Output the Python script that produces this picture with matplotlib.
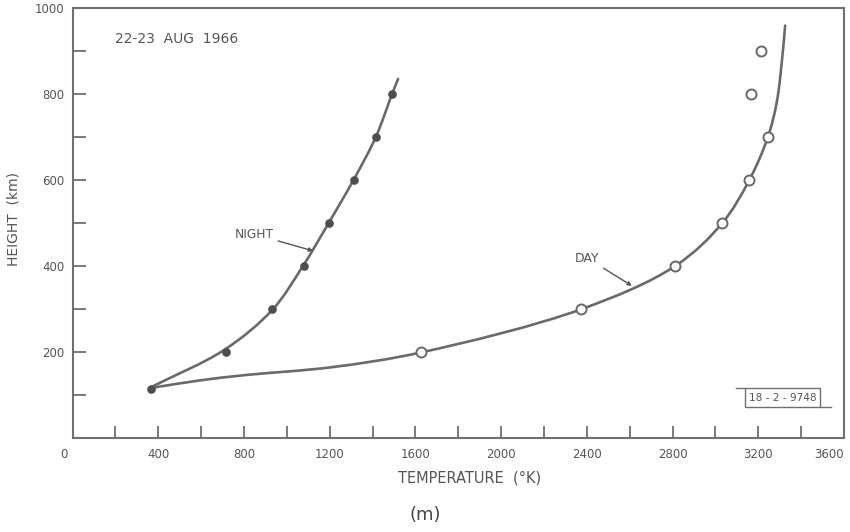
import numpy as np
import matplotlib
matplotlib.use("Agg")
import matplotlib.pyplot as plt
from matplotlib.path import Path
from matplotlib.patches import PathPatch, Rectangle
import matplotlib.transforms as mtransforms

# Measured temperature profiles, 22-23 Aug 1966
night_temp = [365, 716, 931, 1081, 1197, 1313, 1416, 1491]
night_height = [115, 200, 300, 400, 500, 600, 700, 800]

day_temp = [1626, 2371, 2812, 3031, 3155, 3244, 3165, 3213]
day_height = [200, 300, 400, 500, 600, 700, 800, 900]

# Hand-faired curves through the measurements (temperature, height)
night_curve_temp = [361, 708, 932, 1075, 1195, 1311, 1415, 1491, 1519]
night_curve_height = [117, 205, 298, 400, 500, 600, 700, 800, 835]

day_curve_temp = [361, 595, 800, 1215, 1626, 2371, 2812, 3032, 3158, 3244, 3286, 3314, 3325]
day_curve_height = [116, 134, 146, 165, 199, 299, 400, 500, 600, 699, 781, 897, 959]

x_ticks = [0, 400, 800, 1200, 1600, 2000, 2400, 2800, 3200, 3600]
y_ticks = [200, 400, 600, 800, 1000]

INK = "#555555"
LINE = "#6a6a6a"
FRAME = "#707070"

XMAX, YMAX = 3600, 1000
# plot-area size in pixels, so the curve is faired in screen proportions
SX, SY = 771.0, 430.0


def faired_path(xs, ys, alpha=0.5):
    """Centripetal Catmull-Rom curve through the points, as cubic Bezier segments."""
    p = np.column_stack([np.asarray(xs) / XMAX * SX, np.asarray(ys) / YMAX * SY])
    ext = np.vstack([2 * p[0] - p[1], p, 2 * p[-1] - p[-2]])
    verts = [p[0]]
    codes = [Path.MOVETO]
    for i in range(1, len(ext) - 2):
        p0, p1, p2, p3 = ext[i - 1], ext[i], ext[i + 1], ext[i + 2]
        d0 = np.linalg.norm(p1 - p0) ** alpha
        d1 = np.linalg.norm(p2 - p1) ** alpha
        d2 = np.linalg.norm(p3 - p2) ** alpha
        m1 = (p1 - p0) / d0 - (p2 - p0) / (d0 + d1) + (p2 - p1) / d1
        m2 = (p2 - p1) / d1 - (p3 - p1) / (d1 + d2) + (p3 - p2) / d2
        c1 = p1 + m1 * d1 / 3.0
        c2 = p2 - m2 * d1 / 3.0
        verts += [c1, c2, p2]
        codes += [Path.CURVE4] * 3
    v = np.array(verts)
    v[:, 0] *= XMAX / SX
    v[:, 1] *= YMAX / SY
    return Path(v, codes)


fig = plt.figure(figsize=(8.5, 5.32), dpi=100)
ax = fig.add_axes([0.0854, 0.1767, 0.9076, 0.8083])
ax.set_xlim(0, XMAX)
ax.set_ylim(0, YMAX)

for xs, ys in [(night_curve_temp, night_curve_height), (day_curve_temp, day_curve_height)]:
    ax.add_patch(PathPatch(faired_path(xs, ys), fill=False, edgecolor=LINE,
                           linewidth=1.9, capstyle="round", zorder=2))

ax.plot(night_temp, night_height, linestyle="none", marker="o", markersize=5.2,
        markerfacecolor="#4e4e4e", markeredgecolor="#4e4e4e", zorder=3)
ax.plot(day_temp, day_height, linestyle="none", marker="o", markersize=7.2,
        markerfacecolor="white", markeredgecolor="#6a6a6a", markeredgewidth=1.4, zorder=3)

# axes frame and inward ticks
for s in ax.spines.values():
    s.set_color(FRAME)
    s.set_linewidth(1.5)
ax.set_xticks(x_ticks)
ax.set_xticks(np.arange(200, 3600, 400), minor=True)
ax.set_yticks(y_ticks)
ax.set_yticks(np.arange(100, 1000, 200), minor=True)
ax.tick_params(which="both", direction="in", length=9, width=1.3, color=FRAME,
               top=False, right=False, labelcolor=INK, labelsize=8.5)
ax.tick_params(axis="x", which="major", pad=7)
ax.tick_params(axis="y", which="major", pad=6)
ax.set_xticklabels([str(v) for v in x_ticks])
ax.set_yticklabels([str(v) for v in y_ticks])

xlabels = ax.get_xticklabels()
xlabels[0].set_transform(xlabels[0].get_transform() +
                         mtransforms.ScaledTranslation(-9 / 100, 0, fig.dpi_scale_trans))
xlabels[-1].set_horizontalalignment("right")

ax.set_xlabel("TEMPERATURE  (°K)", color=INK, fontsize=10.5)
ax.xaxis.set_label_coords(0.515, -0.075)
ax.set_ylabel("HEIGHT  (km)", color=INK, fontsize=10)
ax.yaxis.set_label_coords(-0.067, 0.51)

# annotations
ax.text(198, 927, "22-23  AUG  1966", color=INK, fontsize=10, va="center", ha="left")
ax.annotate("NIGHT", xy=(1123, 435), xytext=(758, 474), color=INK, fontsize=8.8,
            va="center", ha="left",
            arrowprops=dict(arrowstyle="-|>", color=INK, lw=1.0, mutation_scale=6,
                            shrinkA=1, shrinkB=0))
ax.annotate("DAY", xy=(2610, 354), xytext=(2345, 418), color=INK, fontsize=9,
            va="center", ha="left",
            arrowprops=dict(arrowstyle="-|>", color=INK, lw=1.0, mutation_scale=6,
                            shrinkA=1, shrinkB=0))

# drawing reference tag
ax.add_patch(Rectangle((3138, 72), 351, 44, fill=False, edgecolor=FRAME, lw=1.0, zorder=2))
ax.plot([3097, 3138], [116, 116], color=FRAME, lw=1.0)
ax.plot([3489, 3540], [72, 72], color=FRAME, lw=1.0)
ax.text(3313, 94, "18 - 2 - 9748", color=INK, fontsize=7.6, va="center", ha="center")

fig.text(0.5, 0.032, "(m)", color="#444444", fontsize=13, ha="center", va="center")

fig.savefig("out.png", dpi=100)
